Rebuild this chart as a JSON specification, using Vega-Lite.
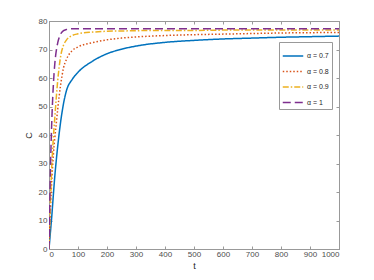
{
  "$schema": "https://vega.github.io/schema/vega-lite/v6.json",
  "width": 290,
  "height": 228,
  "autosize": {"type": "none"},
  "padding": {"left": 49, "top": 21, "right": 35, "bottom": 31},
  "background": "white",
  "config": {
    "font": "Liberation Sans",
    "view": {"stroke": "#999999", "strokeWidth": 1},
    "axis": {
      "grid": false,
      "domainColor": "#999999",
      "tickColor": "#999999",
      "labelColor": "#4d4d4d",
      "titleColor": "#262626",
      "labelFontSize": 8,
      "titleFontSize": 9,
      "titleFontWeight": "normal",
      "tickSize": -3
    }
  },
  "data": {"values": [
    {"t": 0, "C": 0, "s": "α = 0.7"}, {"t": 5, "C": 6, "s": "α = 0.7"}, {"t": 10, "C": 12, "s": "α = 0.7"}, {"t": 15, "C": 19, "s": "α = 0.7"}, {"t": 20, "C": 25.5, "s": "α = 0.7"}, {"t": 25, "C": 31, "s": "α = 0.7"}, {"t": 30, "C": 36, "s": "α = 0.7"}, {"t": 40, "C": 44.5, "s": "α = 0.7"}, {"t": 50, "C": 51, "s": "α = 0.7"}, {"t": 60, "C": 55.5, "s": "α = 0.7"}, {"t": 80, "C": 59.5, "s": "α = 0.7"}, {"t": 100, "C": 62, "s": "α = 0.7"}, {"t": 150, "C": 65.9, "s": "α = 0.7"}, {"t": 200, "C": 68.5, "s": "α = 0.7"}, {"t": 250, "C": 70.1, "s": "α = 0.7"}, {"t": 300, "C": 71.2, "s": "α = 0.7"}, {"t": 400, "C": 72.5, "s": "α = 0.7"}, {"t": 500, "C": 73.2, "s": "α = 0.7"}, {"t": 600, "C": 73.7, "s": "α = 0.7"}, {"t": 700, "C": 74.0, "s": "α = 0.7"}, {"t": 800, "C": 74.3, "s": "α = 0.7"}, {"t": 900, "C": 74.5, "s": "α = 0.7"}, {"t": 1000, "C": 74.7, "s": "α = 0.7"},
    {"t": 0, "C": 0, "s": "α = 0.8"}, {"t": 5, "C": 14, "s": "α = 0.8"}, {"t": 10, "C": 25, "s": "α = 0.8"}, {"t": 15, "C": 33, "s": "α = 0.8"}, {"t": 20, "C": 39, "s": "α = 0.8"}, {"t": 25, "C": 44, "s": "α = 0.8"}, {"t": 30, "C": 49, "s": "α = 0.8"}, {"t": 40, "C": 57.5, "s": "α = 0.8"}, {"t": 50, "C": 63.5, "s": "α = 0.8"}, {"t": 60, "C": 66.5, "s": "α = 0.8"}, {"t": 80, "C": 69.6, "s": "α = 0.8"}, {"t": 100, "C": 70.9, "s": "α = 0.8"}, {"t": 150, "C": 72.4, "s": "α = 0.8"}, {"t": 200, "C": 73.4, "s": "α = 0.8"}, {"t": 250, "C": 74.0, "s": "α = 0.8"}, {"t": 300, "C": 74.4, "s": "α = 0.8"}, {"t": 400, "C": 74.9, "s": "α = 0.8"}, {"t": 500, "C": 75.2, "s": "α = 0.8"}, {"t": 600, "C": 75.4, "s": "α = 0.8"}, {"t": 700, "C": 75.6, "s": "α = 0.8"}, {"t": 800, "C": 75.8, "s": "α = 0.8"}, {"t": 900, "C": 75.9, "s": "α = 0.8"}, {"t": 1000, "C": 76.0, "s": "α = 0.8"},
    {"t": 0, "C": 0, "s": "α = 0.9"}, {"t": 5, "C": 17, "s": "α = 0.9"}, {"t": 10, "C": 30, "s": "α = 0.9"}, {"t": 15, "C": 39, "s": "α = 0.9"}, {"t": 20, "C": 46, "s": "α = 0.9"}, {"t": 25, "C": 53, "s": "α = 0.9"}, {"t": 30, "C": 59, "s": "α = 0.9"}, {"t": 40, "C": 67.5, "s": "α = 0.9"}, {"t": 50, "C": 71.5, "s": "α = 0.9"}, {"t": 60, "C": 73.3, "s": "α = 0.9"}, {"t": 80, "C": 74.9, "s": "α = 0.9"}, {"t": 100, "C": 75.5, "s": "α = 0.9"}, {"t": 150, "C": 76.1, "s": "α = 0.9"}, {"t": 200, "C": 76.4, "s": "α = 0.9"}, {"t": 250, "C": 76.5, "s": "α = 0.9"}, {"t": 300, "C": 76.6, "s": "α = 0.9"}, {"t": 400, "C": 76.7, "s": "α = 0.9"}, {"t": 500, "C": 76.7, "s": "α = 0.9"}, {"t": 600, "C": 76.8, "s": "α = 0.9"}, {"t": 700, "C": 76.8, "s": "α = 0.9"}, {"t": 800, "C": 76.8, "s": "α = 0.9"}, {"t": 900, "C": 76.8, "s": "α = 0.9"}, {"t": 1000, "C": 76.8, "s": "α = 0.9"},
    {"t": 0, "C": 0, "s": "α = 1"}, {"t": 5, "C": 28, "s": "α = 1"}, {"t": 10, "C": 46, "s": "α = 1"}, {"t": 15, "C": 57.5, "s": "α = 1"}, {"t": 20, "C": 65, "s": "α = 1"}, {"t": 25, "C": 69.5, "s": "α = 1"}, {"t": 30, "C": 72.3, "s": "α = 1"}, {"t": 40, "C": 75.4, "s": "α = 1"}, {"t": 50, "C": 76.6, "s": "α = 1"}, {"t": 60, "C": 77.0, "s": "α = 1"}, {"t": 80, "C": 77.3, "s": "α = 1"}, {"t": 100, "C": 77.3, "s": "α = 1"}, {"t": 150, "C": 77.3, "s": "α = 1"}, {"t": 200, "C": 77.3, "s": "α = 1"}, {"t": 250, "C": 77.3, "s": "α = 1"}, {"t": 300, "C": 77.3, "s": "α = 1"}, {"t": 400, "C": 77.3, "s": "α = 1"}, {"t": 500, "C": 77.3, "s": "α = 1"}, {"t": 600, "C": 77.3, "s": "α = 1"}, {"t": 700, "C": 77.3, "s": "α = 1"}, {"t": 800, "C": 77.3, "s": "α = 1"}, {"t": 900, "C": 77.3, "s": "α = 1"}, {"t": 1000, "C": 77.3, "s": "α = 1"}
  ]},
  "layer": [
    {
      "mark": {"type": "line", "strokeWidth": 1.5, "interpolate": "monotone", "clip": true},
      "encoding": {
        "x": {"field": "t", "type": "quantitative", "scale": {"domain": [0, 1000], "nice": false},
              "axis": {"title": "t", "format": "d", "values": [0,100,200,300,400,500,600,700,800,900,1000], "labelPadding": 4, "titlePadding": 3}},
        "y": {"field": "C", "type": "quantitative", "scale": {"domain": [0, 80], "nice": false},
              "axis": {"title": "C", "format": "d", "values": [0,10,20,30,40,50,60,70,80], "labelPadding": 5, "titlePadding": 5}},
        "color": {"field": "s", "type": "nominal",
                  "scale": {"domain": ["α = 0.7", "α = 0.8", "α = 0.9", "α = 1"], "range": ["#0072BD", "#D95319", "#EDB120", "#7E2F8E"]},
                  "legend": {"title": null, "orient": "none", "legendX": 230, "legendY": 21,
                             "symbolType": "stroke", "symbolSize": 420, "symbolStrokeWidth": 1.5,
                             "labelFontSize": 7, "labelColor": "#262626", "rowPadding": 1.5, "padding": 3,
                             "strokeColor": "#999999", "fillColor": "white", "labelOffset": 3}},
        "strokeDash": {"field": "s", "type": "nominal",
                       "scale": {"domain": ["α = 0.7", "α = 0.8", "α = 0.9", "α = 1"], "range": [[1, 0], [1.5, 2], [6, 2, 1.5, 2], [8, 4]]},
                       "legend": {"title": null}}
      }
    },
    {
      "mark": {"type": "line", "opacity": 0},
      "encoding": {
        "x": {"field": "t", "type": "quantitative", "scale": {"domain": [0, 1000], "nice": false},
              "axis": {"orient": "top", "title": null, "labels": false, "values": [0,100,200,300,400,500,600,700,800,900,1000]}},
        "y": {"field": "C", "type": "quantitative", "scale": {"domain": [0, 80], "nice": false},
              "axis": {"orient": "right", "title": null, "labels": false, "values": [0,10,20,30,40,50,60,70,80]}}
      }
    }
  ],
  "resolve": {"axis": {"x": "independent", "y": "independent"}}
}
